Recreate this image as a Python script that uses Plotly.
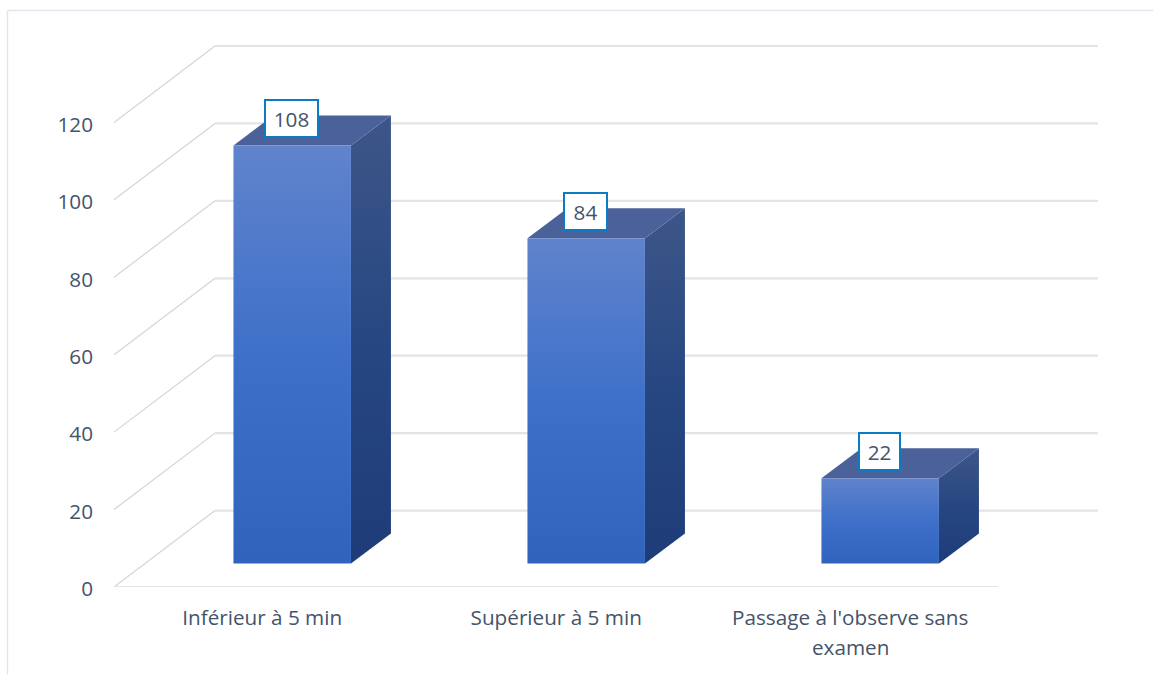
import plotly.graph_objects as go

categories = ["Inférieur à 5 min", "Supérieur à 5 min", "Passage à l'observe sans"]
category_second_line = ["", "", "examen"]
values = [108, 84, 22]
y_ticks = [0, 20, 40, 60, 80, 100, 120]

# Layout geometry (page pixels)
W, H = 1153, 675
LEFT, RIGHT_PLOT, TOP, BOTTOM = 114, 1098, 30, 587.5
CAT_X0, CAT_STEP = 262.2, 294.0   # page x of first category, px per category
PX_PER_VAL = 3.875
FONT = "Open Sans"
FONT_SIZE = 20.7
TXT = "#44546A"
GRID = "#E4E4E4"

def dx(px):
    return px / CAT_STEP

def dy(px):
    return px / PX_PER_VAL

FLOOR_DX, FLOOR_DY = dx(101), dy(76.5)
FLOOR_END = dx(998 - 114)
BAR_DX, BAR_DY = dx(30), dy(23.5)
BAR_W = dx(117.5)
DEPTH_DX, DEPTH_DY = dx(40), dy(30)
x0 = (LEFT - CAT_X0) / CAT_STEP
x1 = (RIGHT_PLOT - CAT_X0) / CAT_STEP
ymax = (BOTTOM - TOP) / PX_PER_VAL

fig = go.Figure()

# gridlines on the wall and the floor edge
for t in y_ticks:
    fig.add_trace(go.Scatter(
        x=[x0, x0 + FLOOR_DX], y=[t, t + FLOOR_DY], mode="lines",
        line=dict(color="#D4D4D4", width=1.2), cliponaxis=False,
        hoverinfo="skip", showlegend=False))
    fig.add_trace(go.Scatter(
        x=[x0 + FLOOR_DX, x1], y=[t + FLOOR_DY, t + FLOOR_DY], mode="lines",
        line=dict(color=GRID, width=2.2), cliponaxis=False,
        hoverinfo="skip", showlegend=False))
fig.add_trace(go.Scatter(
    x=[x0, x0 + FLOOR_END], y=[0, 0], mode="lines",
    line=dict(color=GRID, width=2.2), cliponaxis=False,
    hoverinfo="skip", showlegend=False))

# bars: front, side and top faces
for i, (cat, v) in enumerate(zip(categories, values)):
    xl = i + BAR_DX - BAR_W / 2
    xr = xl + BAR_W
    yb = BAR_DY
    yt = yb + v
    # side
    fig.add_trace(go.Scatter(
        x=[xr, xr + DEPTH_DX, xr + DEPTH_DX, xr, xr],
        y=[yb, yb + DEPTH_DY, yt + DEPTH_DY, yt, yb],
        mode="lines", line=dict(width=0), fill="toself", cliponaxis=False,
        fillgradient=dict(type="vertical",
                          colorscale=[[0, "#1D3C78"], [0.5, "#274782"], [1, "#3D5688"]]),
        hoverinfo="skip", showlegend=False))
    # top
    fig.add_trace(go.Scatter(
        x=[xl, xr, xr + DEPTH_DX, xl + DEPTH_DX, xl],
        y=[yt, yt, yt + DEPTH_DY, yt + DEPTH_DY, yt],
        mode="lines", line=dict(width=0), fill="toself", cliponaxis=False,
        fillcolor="#4A6299", hoverinfo="skip", showlegend=False))
    # front
    fig.add_trace(go.Scatter(
        x=[xl, xr, xr, xl, xl], y=[yb, yb, yt, yt, yb],
        mode="lines", line=dict(width=0), fill="toself", cliponaxis=False,
        fillgradient=dict(type="vertical",
                          colorscale=[[0, "#3063BB"], [0.5, "#3E70C9"], [1, "#6083CC"]]),
        name=cat, hovertemplate="%{fullData.name}<extra></extra>", showlegend=False))

# pixel helpers for paper-referenced items
px_x = lambda p: (p - LEFT) / (RIGHT_PLOT - LEFT)
px_y = lambda p: (BOTTOM - p) / (BOTTOM - TOP)

annotations = []
LABEL_W = {108: 51, 84: 41, 22: 39}
for i, v in enumerate(values):
    annotations.append(dict(
        x=i + BAR_DX - dx(0.5), y=BAR_DY + v + dy(26.5), xref="x", yref="y",
        text=str(v), showarrow=False, font=dict(family=FONT, size=FONT_SIZE, color=TXT),
        bgcolor="white", bordercolor="#0B7BC3", borderwidth=2, borderpad=0,
        width=LABEL_W[v], height=35, align="center", valign="middle"))
for i, t in enumerate(category_second_line):
    if t:
        annotations.append(dict(
            x=i, y=px_y(648), xref="x", yref="paper", text=t, showarrow=False,
            font=dict(family=FONT, size=FONT_SIZE, color=TXT), yanchor="middle"))

# chart frame
shapes = [
    dict(type="line", xref="paper", yref="paper", layer="below",
         x0=px_x(7.5), x1=px_x(W), y0=px_y(10.5), y1=px_y(10.5),
         line=dict(color="#DFE5EE", width=1.5)),
    dict(type="line", xref="paper", yref="paper", layer="below",
         x0=px_x(7.5), x1=px_x(7.5), y0=px_y(10.5), y1=px_y(H),
         line=dict(color="#DFE5EE", width=1.5)),
]

fig.update_layout(
    width=W, height=H, autosize=False,
    margin=dict(l=LEFT, r=W - RIGHT_PLOT, t=TOP, b=H - BOTTOM, pad=0),
    paper_bgcolor="white", plot_bgcolor="rgba(0,0,0,0)",
    showlegend=False, annotations=annotations, shapes=shapes,
    font=dict(family=FONT, size=FONT_SIZE, color=TXT),
    xaxis=dict(range=[x0, x1], tickmode="array", tickvals=list(range(len(categories))),
               ticktext=categories, showgrid=False, zeroline=False, showline=False,
               ticks="", ticklabelstandoff=16, tickangle=0,
               tickfont=dict(family=FONT, size=FONT_SIZE, color=TXT)),
    yaxis=dict(range=[0, ymax], tickmode="array", tickvals=y_ticks,
               showgrid=False, zeroline=False, showline=False,
               ticks="", ticklabelstandoff=20, ticklabelshift=2,
               tickfont=dict(family=FONT, size=FONT_SIZE, color=TXT)),
)

fig.write_html("out.html", config={"displayModeBar": False},
               post_script="document.body.style.margin='0';document.body.style.overflow='hidden';")
